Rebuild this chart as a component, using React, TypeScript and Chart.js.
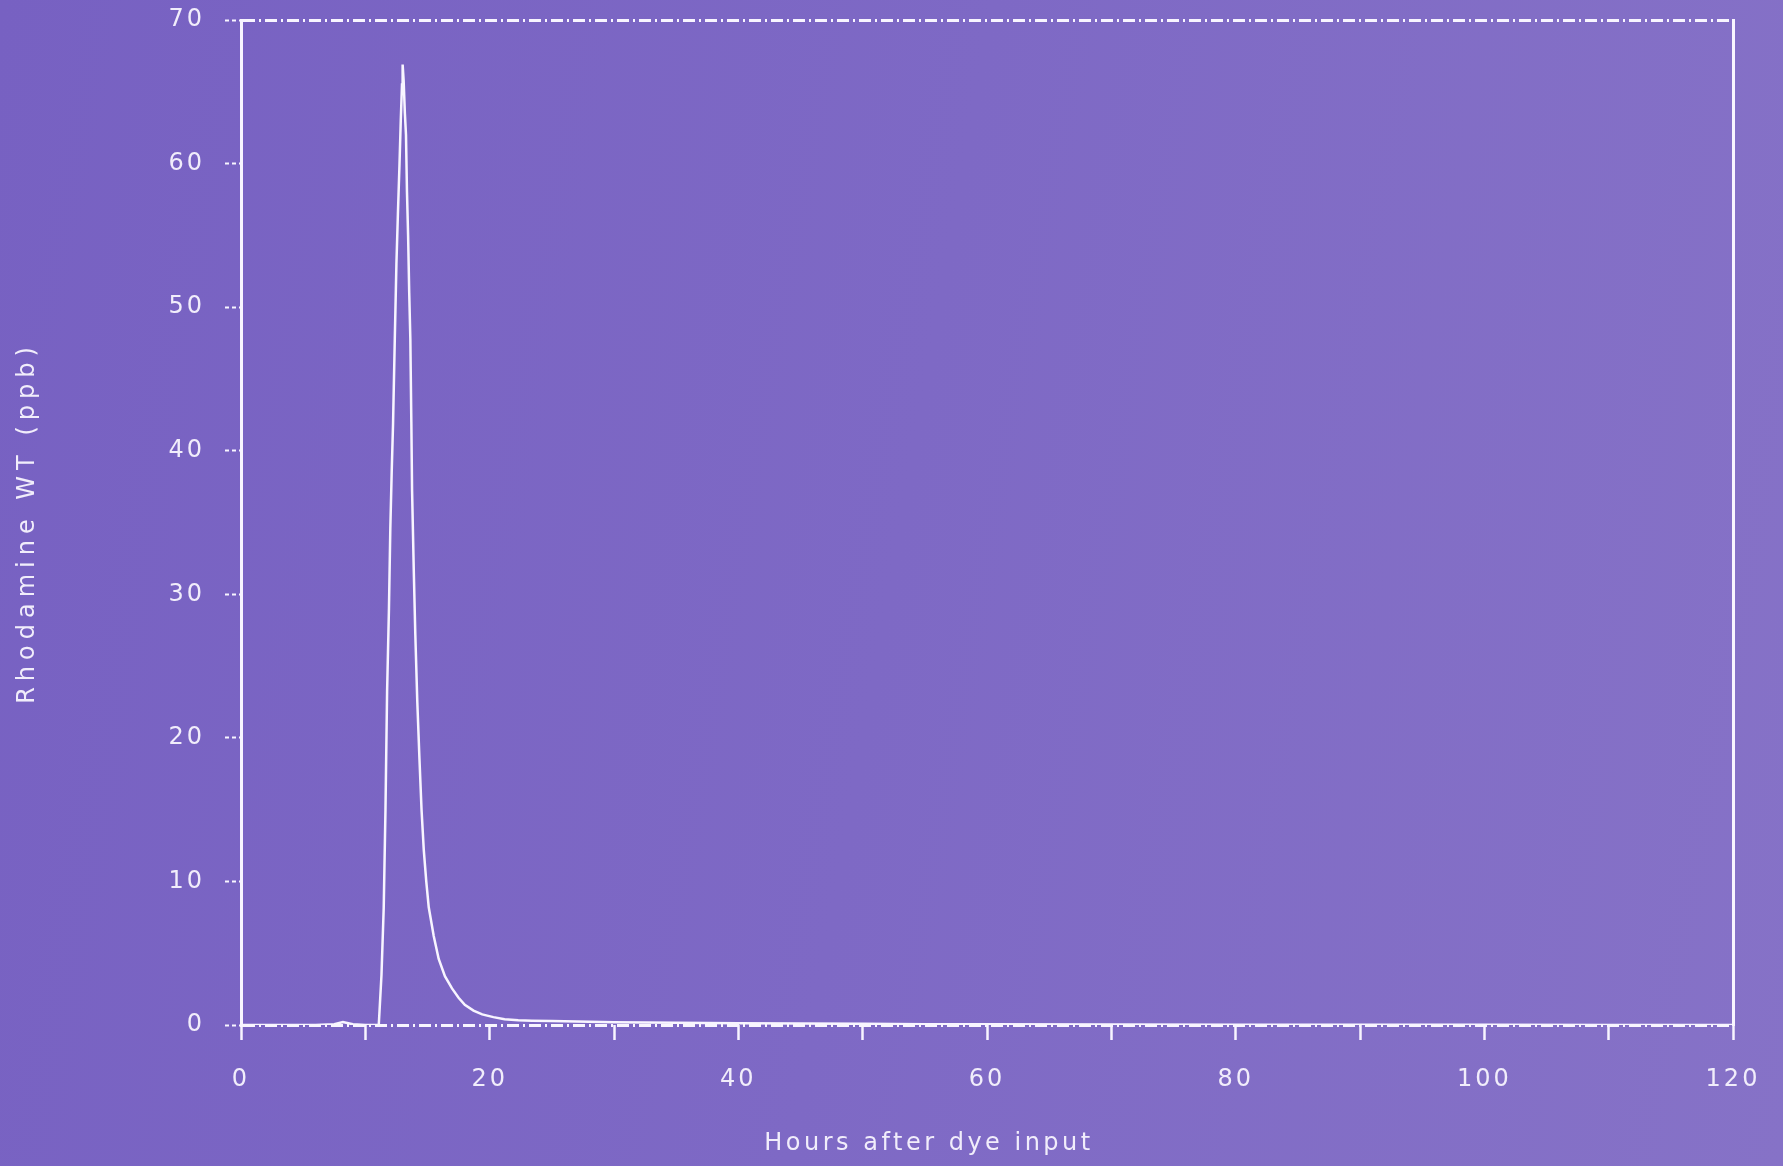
import React, { useEffect, useRef } from "react";
import { Chart, registerables } from "chart.js";

Chart.register(...registerables);

// Hours after dye input (x) and Rhodamine WT concentration in ppb (y)
const HOURS = [
  0, 2, 4, 6, 7.5, 8.2, 9, 10, 10.8, 11.08,
  11.3, 11.48, 11.62, 11.75, 11.9, 12.01, 12.12, 12.23, 12.37, 12.5,
  12.62, 12.75, 12.85, 12.95, 13.0, 13.08, 13.18, 13.27, 13.35, 13.44,
  13.53, 13.62, 13.7, 13.76, 13.9, 14.02, 14.18, 14.35, 14.52, 14.7,
  14.9, 15.1, 15.5, 15.9, 16.4, 16.97, 17.5, 18.0, 18.7, 19.4,
  20.3, 21.2, 22.3, 23.4, 25, 27, 30, 35, 40, 45,
  50, 55, 60, 70, 80, 90, 100, 110, 120,
];
const RHODAMINE = [
  0, 0, 0, 0, 0.05, 0.2, 0.05, 0, 0, 0,
  3.5, 8.2, 15, 23.2, 29, 34.6, 38.5, 41.9, 47.8, 53,
  56.5, 60, 63, 65.5, 66.9, 65.8, 63.5, 62, 58, 55,
  51, 47.8, 42, 37.2, 31.5, 27.2, 22.5, 18.6, 15, 12.2,
  10, 8.2, 6.2, 4.6, 3.4, 2.55, 1.9, 1.4, 1.0, 0.74,
  0.55, 0.4, 0.33, 0.3, 0.27, 0.24, 0.2, 0.16, 0.13, 0.1,
  0.08, 0.06, 0.05, 0.03, 0.02, 0.01, 0.01, 0, 0,
];

const X_MIN = 0;
const X_MAX = 120;
const X_STEP = 10;
const Y_MIN = 0;
const Y_MAX = 70;
const Y_STEP = 10;

const X_TITLE = "Hours after dye input";
const Y_TITLE = "Rhodamine WT (ppb)";

const LINE = "#F8F5FF";
const TEXT = "#F1EDFB";
const FONT_FAMILY = '"DejaVu Sans", "Liberation Sans", sans-serif';

const W = 1783;
const H = 1166;

export default function App() {
  const canvasRef = useRef<HTMLCanvasElement | null>(null);

  useEffect(() => {
    const canvas = canvasRef.current;
    if (!canvas) return;

    const spacingPlugin = {
      id: "spacing",
      beforeDraw(chart: any) {
        chart.ctx.letterSpacing = "3px";
      },
      afterDraw(chart: any) {
        const ctx = chart.ctx as CanvasRenderingContext2D & { letterSpacing: string };
        const ca = chart.chartArea;
        ctx.save();
        ctx.fillStyle = TEXT;
        ctx.font = `normal 24px ${FONT_FAMILY}`;
        ctx.textAlign = "center";
        ctx.textBaseline = "middle";
        ctx.letterSpacing = "3.5px";
        ctx.fillText(X_TITLE, (ca.left + ca.right) / 2 - 58, 1144);
        ctx.translate(28, (ca.top + ca.bottom) / 2);
        ctx.rotate(-Math.PI / 2);
        ctx.letterSpacing = "6px";
        ctx.fillText(Y_TITLE, 0, 0);
        ctx.restore();
      },
    };

    const tickFont = { family: FONT_FAMILY, size: 24, weight: "normal" as any };

    const chart = new Chart(canvas, {
      type: "line",
      data: {
        datasets: [
          {
            data: HOURS.map((h, i) => ({ x: h, y: RHODAMINE[i] })),
            borderColor: LINE,
            borderWidth: 2.5,
            pointRadius: 0,
            tension: 0,
            fill: false,
          },
        ],
      },
      options: {
        animation: false,
        responsive: false,
        maintainAspectRatio: false,
        layout: { padding: { top: 20, right: 50, left: 0, bottom: 0 } },
        plugins: {
          legend: { display: false },
          tooltip: { enabled: false },
          title: { display: false },
        },
        scales: {
          x: {
            type: "linear",
            min: X_MIN,
            max: X_MAX,
            ticks: {
              stepSize: X_STEP,
              autoSkip: false,
              maxRotation: 0,
              color: TEXT,
              font: tickFont,
              padding: 25,
              callback: (v: any) => (Number(v) % 20 === 0 ? String(v) : ""),
            },
            grid: {
              display: true,
              drawOnChartArea: false,
              drawTicks: true,
              tickLength: 15,
              tickColor: LINE,
              tickWidth: 2.5,
            },
            border: { display: false },
            afterFit: (s: any) => {
              s.height = H - 1025;
              s.paddingLeft = 0;
              s.paddingRight = 0;
            },
          },
          y: {
            min: Y_MIN,
            max: Y_MAX,
            ticks: {
              stepSize: Y_STEP,
              color: TEXT,
              font: tickFont,
              padding: 20,
            },
            grid: {
              display: true,
              drawOnChartArea: true,
              color: (c: any) =>
                c.tick && (c.tick.value === Y_MIN || c.tick.value === Y_MAX) ? LINE : "rgba(0,0,0,0)",
              lineWidth: 3,
              drawTicks: true,
              tickLength: 16,
              tickColor: LINE,
              tickWidth: 2,
              tickBorderDash: [4, 3],
            },
            border: { display: true, color: LINE, width: 3, dash: [12, 4, 2, 4] },
            afterFit: (s: any) => {
              s.width = 241;
              s.paddingTop = 0;
              s.paddingBottom = 0;
            },
          },
          y2: {
            position: "right",
            min: Y_MIN,
            max: Y_MAX,
            ticks: { display: false },
            grid: { display: false, drawTicks: false },
            border: { display: true, color: LINE, width: 3 },
            afterFit: (s: any) => {
              s.width = 0;
              s.paddingTop = 0;
              s.paddingBottom = 0;
            },
          },
        },
      } as any,
      plugins: [spacingPlugin],
    });

    return () => chart.destroy();
  }, []);

  return (
    <div
      style={{
        position: "absolute",
        top: 0,
        left: 0,
        width: W,
        height: H,
        overflow: "hidden",
        background: "linear-gradient(100deg, #7761C2 0%, #7E69C5 50%, #8672C7 100%)",
      }}
    >
      <canvas ref={canvasRef} width={W} height={H} style={{ display: "block", width: W, height: H }} />
    </div>
  );
}
